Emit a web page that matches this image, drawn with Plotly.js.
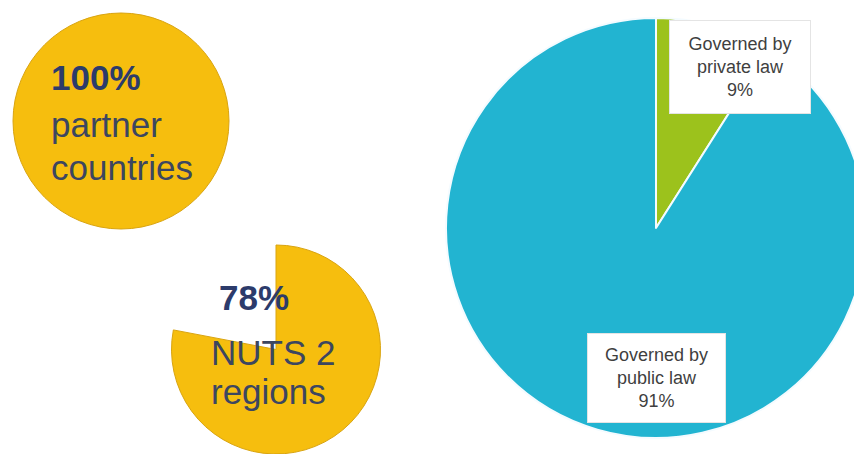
<!DOCTYPE html>
<html>
<head>
<meta charset="utf-8">
<script src="https://cdn.plot.ly/plotly-3.0.1.min.js"></script>
<style>
  html, body { margin: 0; padding: 0; width: 854px; height: 454px; overflow: hidden; background: #ffffff; }
  #chart { width: 880px; height: 454px; }
</style>
</head>
<body>
<div id="chart"></div>
<script>
// ---- data ----
const partnerLabels = ["Partner countries covered"];
const partnerValues = [100];
const partnerText = ["100%", "partner", "countries"];

const nutsLabels = ["NUTS 2 regions covered", "Not covered"];
const nutsValues = [78, 22];
const nutsText = ["78%", "NUTS 2", "regions"];

const lawLabels = ["Governed by private law", "Governed by public law"];
const lawValues = [9, 91];
const lawLabelLines = [["Governed by", "private law"], ["Governed by", "public law"]];

// ---- layout helpers ----
const W = 880, H = 454;
const px = x => x / W;
const py = y => 1 - y / H;
function dom(cx, cy, r) {
  return { x: [px(cx - r), px(cx + r)], y: [py(cy + r), py(cy - r)] };
}

const gold = "#F6BE0E";
const goldEdge = "#D9A410";
const navy = "#2C3B6B";
const slate = "#3C4660";

const traces = [
  {
    type: "pie", labels: partnerLabels, values: partnerValues,
    domain: dom(121, 121, 108), sort: false, direction: "clockwise",
    marker: { colors: [gold], line: { color: goldEdge, width: 1 } },
    textinfo: "none", hoverinfo: "label+percent", showlegend: false
  },
  {
    type: "pie", labels: nutsLabels, values: nutsValues,
    domain: dom(276, 350, 105), sort: false, direction: "clockwise", rotation: 0,
    marker: { colors: [gold, "rgba(255,255,255,0)"], line: { color: [goldEdge, "rgba(255,255,255,0)"], width: [1, 0] } },
    textinfo: "none", hoverinfo: "label+percent", showlegend: false
  },
  {
    type: "pie", labels: lawLabels, values: lawValues,
    domain: dom(656, 228, 210), sort: false, direction: "clockwise", rotation: 0,
    marker: { colors: ["#9CC21C", "#22B4D1"], line: { color: "#F4FBFF", width: 2 } },
    textinfo: "none", hoverinfo: "label+percent", showlegend: false
  }
];

const FONT = "Liberation Sans, Arial, sans-serif";
function textAnn(text, x, y, bold, color) {
  return {
    xref: "paper", yref: "paper", x: px(x), y: py(y),
    xanchor: "left", yanchor: "middle", showarrow: false,
    text: bold ? "<b>" + text + "</b>" : text,
    font: { family: FONT, size: 35, color: color }
  };
}

const total = lawValues.reduce((a, b) => a + b, 0);
function boxAnn(i, x, y, w, h) {
  return {
    xref: "paper", yref: "paper", x: px(x), y: py(y),
    xanchor: "center", yanchor: "middle", showarrow: false,
    text: lawLabelLines[i].join("<br>") + "<br>" + Math.round(lawValues[i] / total * 100) + "%",
    font: { family: FONT, size: 18, color: "#3F3F3F" },
    bgcolor: "#FFFFFF", bordercolor: "#E4E4E4", borderwidth: 1,
    width: w, height: h, align: "center", valign: "middle"
  };
}

const annotations = [
  textAnn(partnerText[0], 49, 77, true, navy),
  textAnn(partnerText[1], 49, 124, false, slate),
  textAnn(partnerText[2], 49, 167, false, slate),
  textAnn(nutsText[0], 217, 297, true, navy),
  textAnn(nutsText[1], 209, 352, false, slate),
  textAnn(nutsText[2], 209, 391, false, slate),
  boxAnn(0, 740, 67, 138, 90),
  boxAnn(1, 656, 378, 135, 86)
];

const layout = {
  width: W, height: H,
  margin: { l: 0, r: 0, t: 0, b: 0, pad: 0 },
  paper_bgcolor: "#FFFFFF",
  showlegend: false,
  annotations: annotations
};

Plotly.newPlot("chart", traces, layout, { displayModeBar: false, staticPlot: true });
</script>
</body>
</html>
